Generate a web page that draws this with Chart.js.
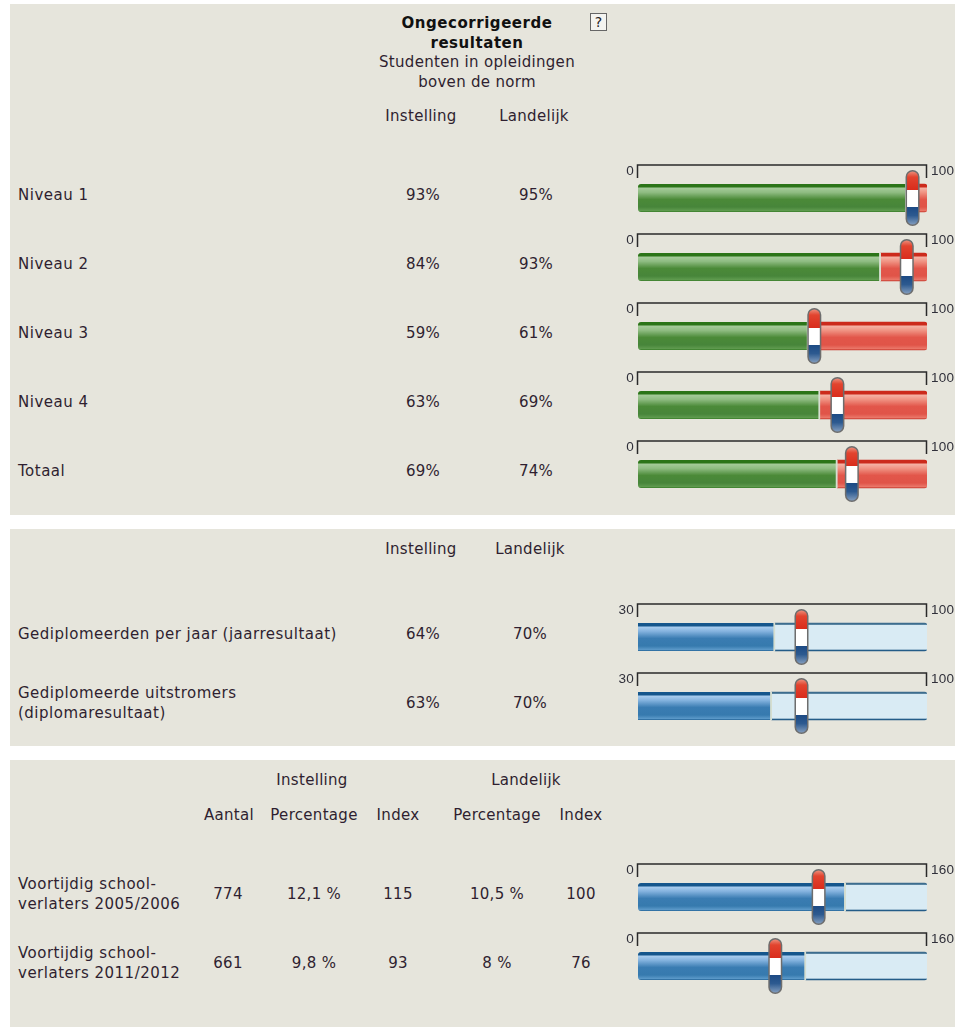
<!DOCTYPE html>
<html>
<head>
<meta charset="utf-8">
<title>Resultaten</title>
<script src="https://cdn.jsdelivr.net/npm/chart.js@4/dist/chart.umd.min.js"></script>
<style>
  html, body { margin: 0; padding: 0; background: #fff; }
  body { position: relative; width: 965px; height: 1027px; overflow: hidden; font-family: "DejaVu Sans", Verdana, sans-serif; font-size: 15px; letter-spacing: 0.3px; color: #2f1f30; }
  .panel { position: absolute; left: 10px; width: 945px; background: #e6e5dc; }
  .t { position: absolute; white-space: nowrap; line-height: 20px; }
  .c { transform: translateX(-50%); text-align: center; }
  .b { font-weight: bold; color: #111; letter-spacing: 0.55px; }
  .l { letter-spacing: 0.5px; }
  canvas { position: absolute; }
  .help { position: absolute; left: 590px; top: 13px; width: 15px; height: 16px; border: 1px solid #666; background: #f4f4f0; font-size: 14px; letter-spacing: 0; line-height: 16px; text-align: center; color: #222; }
</style>
</head>
<body>
<div class="panel" style="top:4px;height:511px"></div>
<div class="panel" style="top:529px;height:217px"></div>
<div class="panel" style="top:760px;height:267px"></div>
<div class="help">?</div>
<canvas id="normChart" style="left:610px;top:163px;width:355px;height:346px"></canvas>
<canvas id="jaarChart" style="left:610px;top:602px;width:355px;height:139px"></canvas>
<canvas id="uitvalChart" style="left:610px;top:862px;width:355px;height:139px"></canvas>
<script>
const normLabels = ['Niveau 1', 'Niveau 2', 'Niveau 3', 'Niveau 4', 'Totaal'];
const normInstelling = [93, 84, 59, 63, 69];
const normLandelijk = [95, 93, 61, 69, 74];
const normMin = 0;
const normMax = 100;

const jaarLabels = ['Gediplomeerden per jaar (jaarresultaat)', 'Gediplomeerde uitstromers\n(diplomaresultaat)'];
const jaarInstelling = [64, 63];
const jaarLandelijk = [70, 70];
// bar ends and markers as they sit in the picture, a bit under the printed percentages
const jaarBars = [63.2, 62.4];
const jaarMarks = [69.6, 69.6];
const jaarMin = 30;
const jaarMax = 100;

const uitvalLabels = ['Voortijdig school-\nverlaters 2005/2006', 'Voortijdig school-\nverlaters 2011/2012'];
const uitvalAantal = ['774', '661'];
const uitvalPercentage = ['12,1 %', '9,8 %'];
const uitvalIndex = [115, 93];
const uitvalLandPercentage = ['10,5 %', '8 %'];
const uitvalLandIndex = [100, 76];
const uitvalMin = 0;
const uitvalMax = 160;

const greenStops = [[0, '#2b7418'], [0.11, '#2b7418'], [0.14, '#a5cb9a'], [0.3, '#8fbc82'], [0.55, '#4b8a38'], [0.82, '#47853a'], [0.95, '#5e9a4e'], [1, '#357a25']];
const redStops = [[0, '#cc2a1c'], [0.11, '#cc2a1c'], [0.14, '#f5b3a6'], [0.3, '#f09383'], [0.55, '#e2564a'], [0.82, '#e05448'], [0.95, '#ea7668'], [1, '#c83a2e']];
const blueStops = [[0, '#15568c'], [0.11, '#15568c'], [0.14, '#a9cdef'], [0.3, '#83b2de'], [0.55, '#3a7cb2'], [0.82, '#367aae'], [0.95, '#5a98c8'], [1, '#1d5e92']];
const paleStops = [[0, '#3d6d8e'], [0.05, '#3d6d8e'], [0.07, '#d9ebf4'], [0.94, '#d9ebf4'], [0.96, '#245c88'], [1, '#245c88']];

function addText(text, x, y, cls) {
  const el = document.createElement('div');
  el.className = 't ' + (cls || '');
  el.style.left = x + 'px';
  el.style.top = (y - 9) + 'px';
  el.textContent = text;
  document.body.appendChild(el);
}

function addLabel(label, x, y) {
  const lines = label.split('\n');
  lines.forEach(function(line, i) {
    addText(line, x, y + (i - (lines.length - 1) / 2) * 20, 'l');
  });
}

function barFill(stops) {
  return function(c) {
    const chart = c.chart;
    if (!chart.chartArea || c.dataIndex === undefined) return stops[0][1];
    const mid = chart.scales.y.getPixelForValue(c.dataIndex);
    const g = chart.ctx.createLinearGradient(0, mid - 14, 0, mid + 14);
    stops.forEach(function(s) { g.addColorStop(s[0], s[1]); });
    return g;
  };
}

function drawMarker(ctx, x, y) {
  const w = 14, top = y - 28, h = 56, r = 7;
  ctx.save();
  ctx.beginPath();
  ctx.roundRect(x - w / 2, top, w, h, r);
  ctx.fillStyle = '#6d6d6d';
  ctx.fill();
  ctx.beginPath();
  ctx.roundRect(x - w / 2 + 1.5, top + 1.5, w - 3, h - 3, r - 1.5);
  ctx.clip();
  let g = ctx.createLinearGradient(0, top, 0, y - 8);
  g.addColorStop(0, '#eda08e');
  g.addColorStop(0.35, '#e2442f');
  g.addColorStop(1, '#d92c1c');
  ctx.fillStyle = g;
  ctx.fillRect(x - w / 2, top, w, 20);
  ctx.fillStyle = '#ffffff';
  ctx.fillRect(x - w / 2, y - 8, w, 17);
  g = ctx.createLinearGradient(0, y + 9, 0, top + h);
  g.addColorStop(0, '#1c4a84');
  g.addColorStop(0.45, '#2d5a90');
  g.addColorStop(1, '#8ea6c4');
  ctx.fillStyle = g;
  ctx.fillRect(x - w / 2, y + 9, w, 19);
  ctx.restore();
}

const gaugePlugin = {
  id: 'gauge',
  afterDatasetsDraw(chart, args, opts) {
    const ctx = chart.ctx;
    const xs = chart.scales.x, ys = chart.scales.y;
    const left = xs.getPixelForValue(xs.min), right = xs.getPixelForValue(xs.max);
    chart.data.labels.forEach(function(label, i) {
      const mid = ys.getPixelForValue(i);
      ctx.strokeStyle = '#2a2a2a';
      ctx.lineWidth = 1.5;
      ctx.beginPath();
      ctx.moveTo(left - 0.5, mid - 20);
      ctx.lineTo(left - 0.5, mid - 33);
      ctx.lineTo(right - 0.5, mid - 33);
      ctx.lineTo(right - 0.5, mid - 20);
      ctx.stroke();
      ctx.fillStyle = '#30303a';
      ctx.font = '13.5px "Liberation Sans", Arial, sans-serif';
      ctx.textBaseline = 'middle';
      ctx.textAlign = 'right';
      ctx.fillText(String(xs.min), left - 4, mid - 27);
      ctx.textAlign = 'left';
      ctx.fillText(String(xs.max), right + 4, mid - 27);
      drawMarker(ctx, xs.getPixelForValue(opts.marks[i]), mid);
    });
  }
};

function createGauge(id, labels, bars, marks, min, max, barStops, trackStops) {
  return new Chart(document.getElementById(id), {
    type: 'bar',
    data: {
      labels: labels,
      datasets: [
        {
          label: 'Instelling',
          data: bars,
          grouped: false,
          backgroundColor: barFill(barStops),
          borderColor: '#d5ded0',
          borderWidth: { right: 2 },
          borderRadius: { topLeft: 3, bottomLeft: 3 },
          borderSkipped: false,
          barThickness: 28
        },
        {
          // rest of the scale, from the end of the bar up to the maximum
          label: 'Schaal',
          data: bars.map(function(v) { return [v, max]; }),
          grouped: false,
          backgroundColor: barFill(trackStops),
          borderRadius: { topRight: 3, bottomRight: 3 },
          borderSkipped: false,
          barThickness: 28
        }
      ]
    },
    options: {
      indexAxis: 'y',
      responsive: false,
      animation: false,
      layout: { padding: { left: 28, right: 38, top: 0.5, bottom: 0.5 } },
      plugins: {
        legend: { display: false },
        tooltip: { enabled: false },
        gauge: { marks: marks }
      },
      scales: {
        x: { display: false, min: min, max: max },
        y: { display: false }
      }
    },
    plugins: [gaugePlugin]
  });
}

document.querySelectorAll('canvas').forEach(function(cv) {
  cv.width = 355;
  cv.height = parseInt(cv.style.height, 10);
});

createGauge('normChart', normLabels, normInstelling, normLandelijk, normMin, normMax, greenStops, redStops);
createGauge('jaarChart', jaarLabels.map(function(l) { return l.replace('\n', ' '); }), jaarBars, jaarMarks, jaarMin, jaarMax, blueStops, paleStops);
createGauge('uitvalChart', uitvalLabels.map(function(l) { return l.replace('\n', ' '); }), uitvalIndex, uitvalLandIndex, uitvalMin, uitvalMax, blueStops, paleStops);

// table text, panel 1
addText('Ongecorrigeerde', 477, 22, 'c b');
addText('resultaten', 477, 42, 'c b');
addText('Studenten in opleidingen', 477, 61, 'c');
addText('boven de norm', 477, 81, 'c');
addText('Instelling', 421, 115, 'c');
addText('Landelijk', 534, 115, 'c');
normLabels.forEach(function(l, i) {
  const y = 194 + i * 69;
  addLabel(l, 18, y);
  addText(normInstelling[i] + '%', 423, y, 'c');
  addText(normLandelijk[i] + '%', 536, y, 'c');
});

// panel 2
addText('Instelling', 421, 548, 'c');
addText('Landelijk', 530, 548, 'c');
jaarLabels.forEach(function(l, i) {
  const y = 633 + i * 69;
  addLabel(l, 18, y);
  addText(jaarInstelling[i] + '%', 423, y, 'c');
  addText(jaarLandelijk[i] + '%', 530, y, 'c');
});

// panel 3
addText('Instelling', 312, 779, 'c');
addText('Landelijk', 526, 779, 'c');
addText('Aantal', 229, 814, 'c');
addText('Percentage', 314, 814, 'c');
addText('Index', 398, 814, 'c');
addText('Percentage', 497, 814, 'c');
addText('Index', 581, 814, 'c');
uitvalLabels.forEach(function(l, i) {
  const y = 893 + i * 69;
  addLabel(l, 18, y);
  addText(uitvalAantal[i], 228, y, 'c');
  addText(uitvalPercentage[i], 314, y, 'c');
  addText(String(uitvalIndex[i]), 398, y, 'c');
  addText(uitvalLandPercentage[i], 497, y, 'c');
  addText(String(uitvalLandIndex[i]), 581, y, 'c');
});
</script>
</body>
</html>
